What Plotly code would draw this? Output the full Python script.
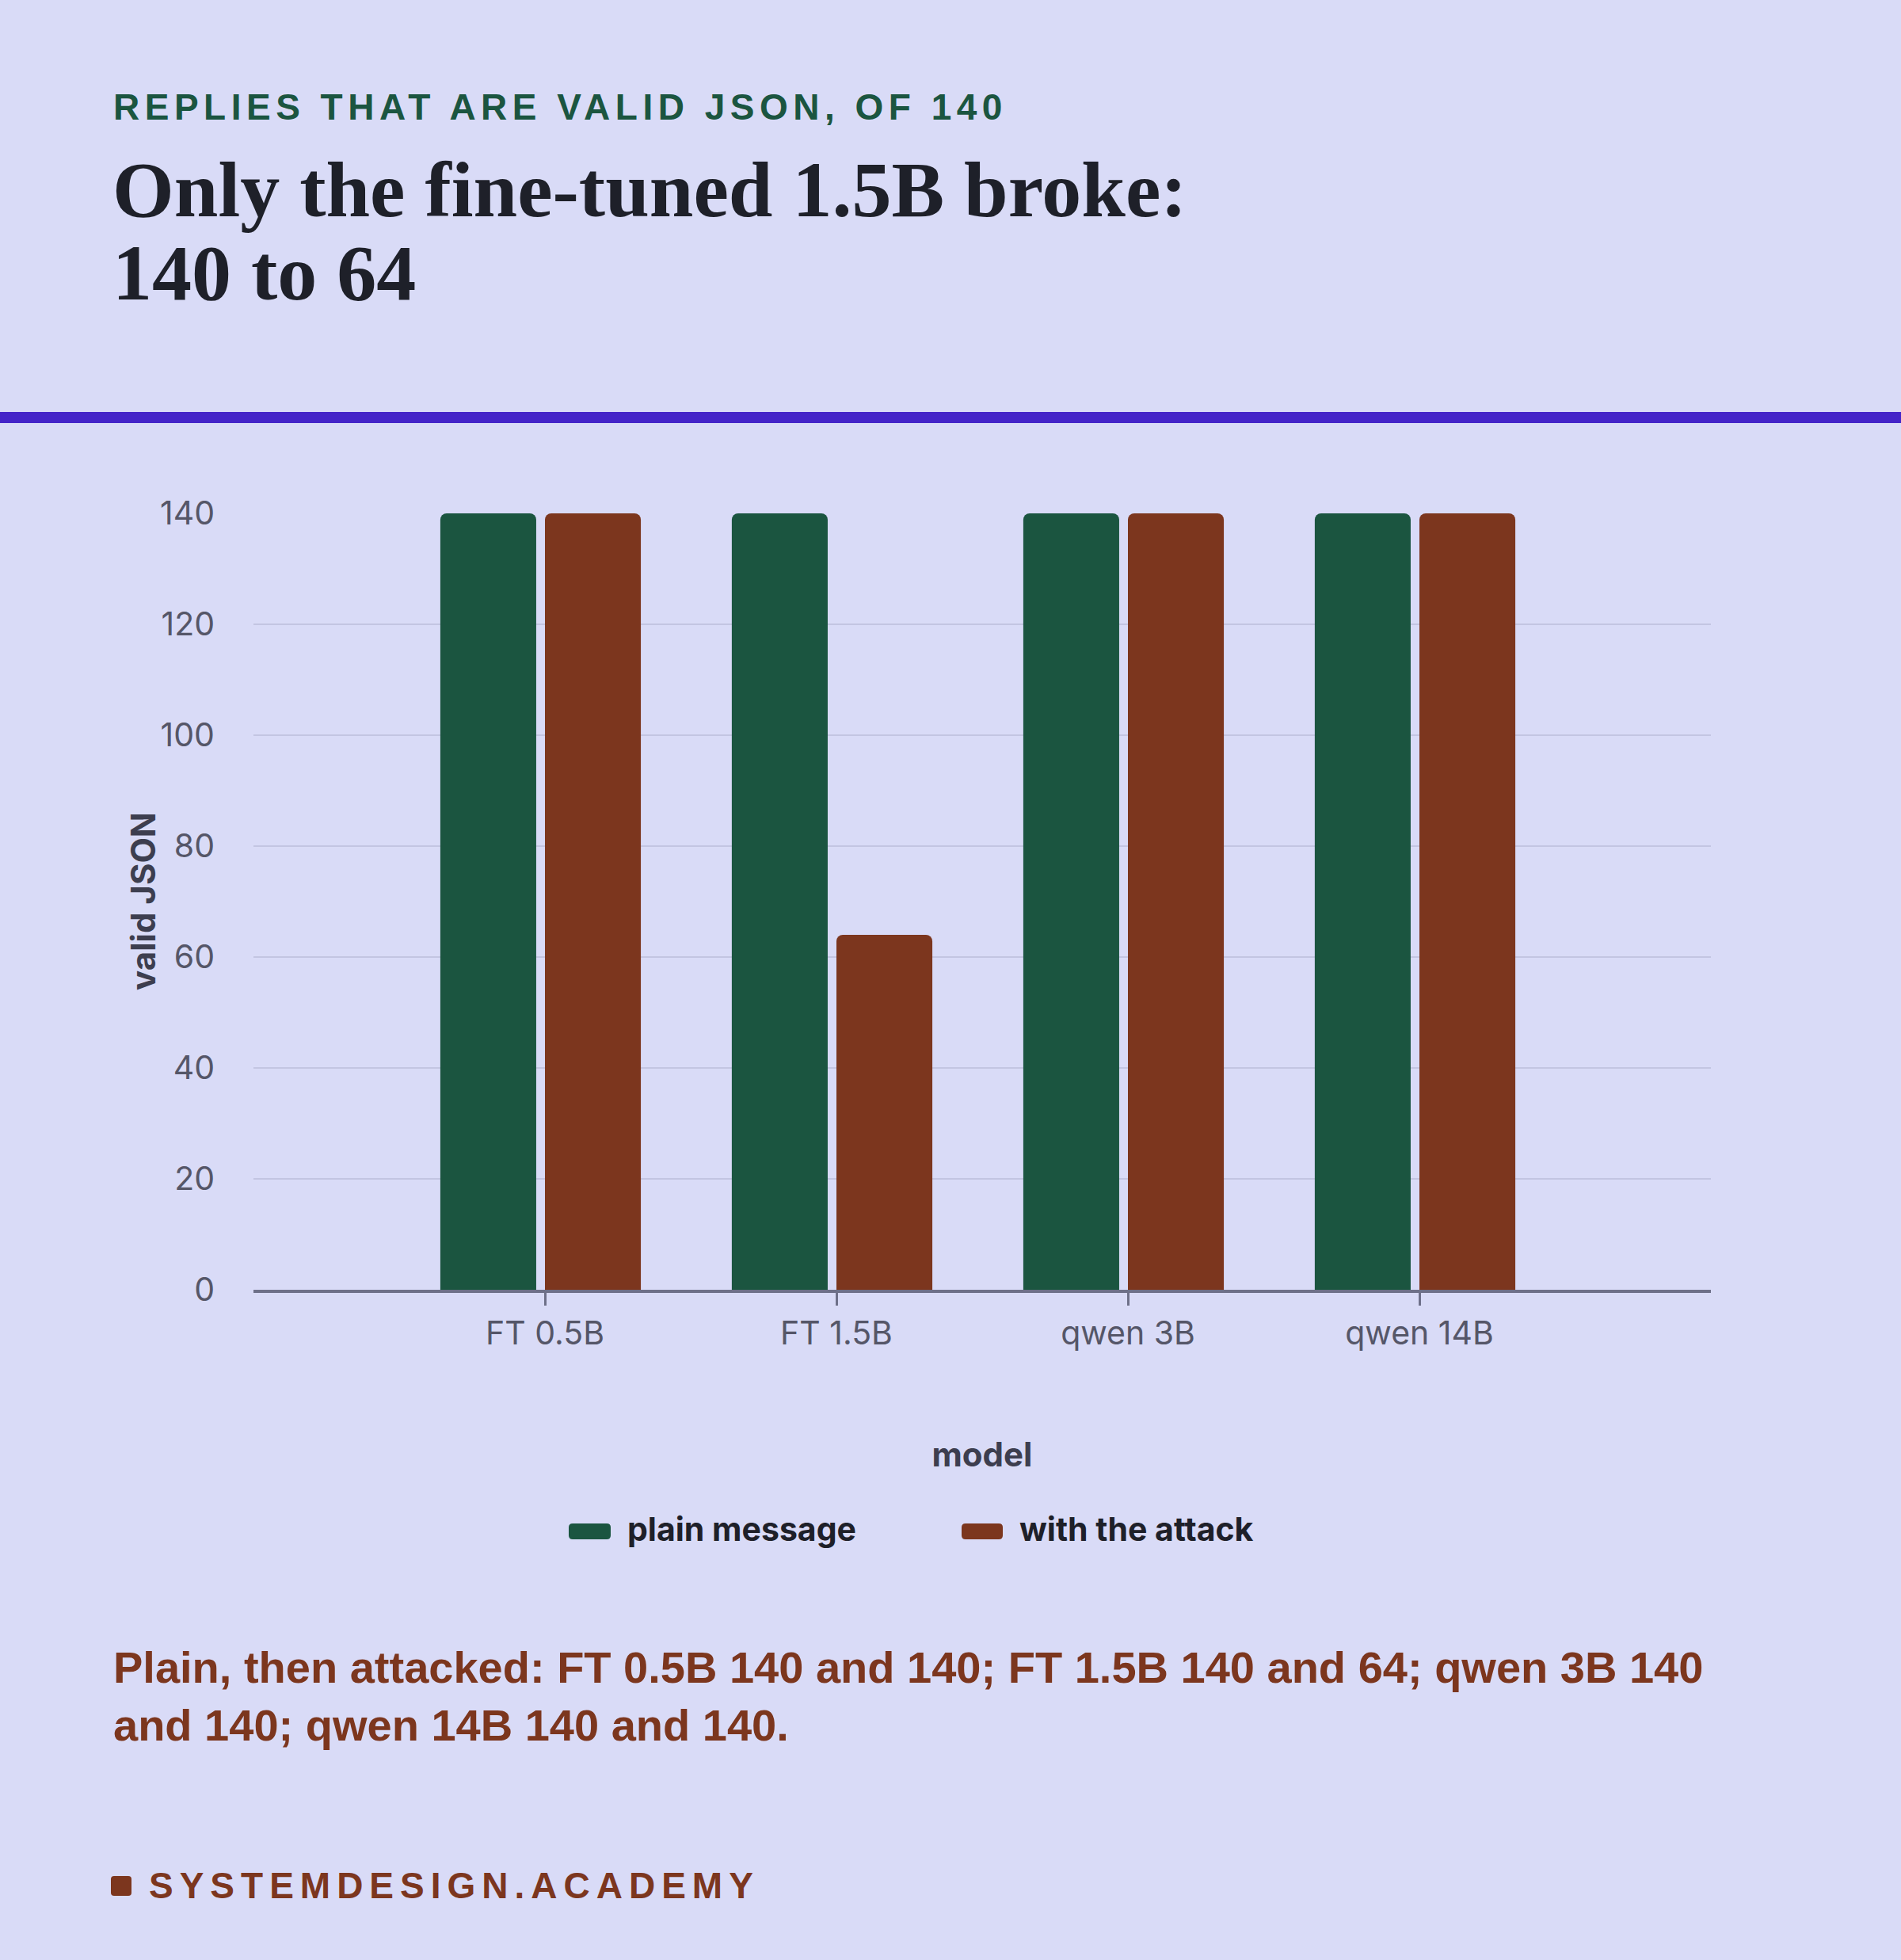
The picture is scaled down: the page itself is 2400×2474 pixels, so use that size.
import plotly.graph_objects as go

# data
models = ["FT 0.5B", "FT 1.5B", "qwen 3B", "qwen 14B"]
plain_message = [140, 140, 140, 140]
with_attack = [140, 64, 140, 140]
series_names = ["plain message", "with the attack"]
y_ticks = [0, 20, 40, 60, 80, 100, 120, 140]

kicker = "REPLIES THAT ARE VALID JSON, OF 140"
title_lines = ["Only the fine-tuned 1.5B broke:", "140 to 64"]
caption = ("Plain, then attacked: FT 0.5B 140 and 140; FT 1.5B 140 and 64; qwen 3B 140"
           "<br>and 140; qwen 14B 140 and 140.")
footer = "SYSTEMDESIGN.ACADEMY"

# colours
BG = "#d9dbf7"
GREEN = "#1b5540"
BROWN = "#7c361e"
PURPLE = "#4424c8"
INK = "#1e2029"
TICK = "#555668"
AXTITLE = "#3d3e4f"
GRID = "#c3c5e2"
AXLINE = "#6e7089"

W, H = 2400, 2474
ML, MR, MT, MB = 320, 240, 648, 846
PW = W - ML - MR
PH = H - MT - MB

# bar geometry in category units (bars sit just left of / right of the tick)
BAR_W = 0.329
GREEN_OFF = -0.359
BROWN_OFF = 0.0


def px_x(px):
    return (px - ML) / PW


def px_y(py):
    return (H - MB - py) / PH


def rounded_rect(x0, y0, x1, y1, r):
    # path in paper coords from pixel box
    rx = r / PW
    ry = r / PH
    a, b, c, d = px_x(x0), px_y(y0), px_x(x1), px_y(y1)  # b top, d bottom
    return (f"M{a+rx},{b} L{c-rx},{b} Q{c},{b} {c},{b-ry} L{c},{d+ry} Q{c},{d} {c-rx},{d} "
            f"L{a+rx},{d} Q{a},{d} {a},{d+ry} L{a},{b-ry} Q{a},{b} {a+rx},{b} Z")


fig = go.Figure()
fig.add_trace(go.Bar(x=models, y=plain_message, name=series_names[0],
                     width=BAR_W, offset=GREEN_OFF,
                     marker=dict(color=GREEN, cornerradius=8, line_width=0), showlegend=False))
fig.add_trace(go.Bar(x=models, y=with_attack, name=series_names[1],
                     width=BAR_W, offset=BROWN_OFF,
                     marker=dict(color=BROWN, cornerradius=8, line_width=0), showlegend=False))

shapes = [
    # purple rule under the header
    dict(type="rect", xref="paper", yref="paper", x0=px_x(0), x1=px_x(W), y0=px_y(520), y1=px_y(534),
         fillcolor=PURPLE, line_width=0, layer="below"),
    # legend swatches
    dict(type="path", xref="paper", yref="paper", path=rounded_rect(718, 1923, 771, 1943, 5),
         fillcolor=GREEN, line_width=0),
    dict(type="path", xref="paper", yref="paper", path=rounded_rect(1214, 1923, 1266, 1943, 5),
         fillcolor=BROWN, line_width=0),
    # footer square
    dict(type="path", xref="paper", yref="paper", path=rounded_rect(140, 2368, 166, 2393, 4),
         fillcolor=BROWN, line_width=0),
]

annotations = [
    dict(text=f'<span style="letter-spacing:6.5px">{kicker}</span>', x=px_x(141), y=px_y(135),
         font=dict(family="Liberation Sans", size=46, color=GREEN, weight=700)),
    dict(text=title_lines[0], x=px_x(140), y=px_y(240),
         font=dict(family="Liberation Serif", size=100, color=INK, weight=700)),
    dict(text=title_lines[1], x=px_x(140), y=px_y(345),
         font=dict(family="Liberation Serif", size=100, color=INK, weight=700)),
    dict(text=series_names[0], x=px_x(790), y=px_y(1930),
         font=dict(family="Inter", size=41, color=INK, weight=700)),
    dict(text=series_names[1], x=px_x(1285), y=px_y(1930),
         font=dict(family="Inter", size=41, color=INK, weight=700)),
    dict(text=caption, x=px_x(141), y=px_y(2141), align="left",
         font=dict(family="Liberation Sans", size=56, color=BROWN, weight=700)),
    dict(text=f'<span style="letter-spacing:8px">{footer}</span>', x=px_x(186), y=px_y(2380),
         font=dict(family="Liberation Sans", size=46, color=BROWN, weight=700)),
]
for a in annotations:
    a.update(xref="paper", yref="paper", xanchor="left", yanchor="middle", showarrow=False)

# y axis title
annotations.append(dict(text="valid JSON", xref="paper", yref="paper", x=px_x(180), y=px_y(1138),
                        xanchor="center", yanchor="middle", textangle=-90, showarrow=False,
                        font=dict(family="Inter", size=42, color=AXTITLE, weight=700)))

fig.update_layout(
    width=W, height=H,
    margin=dict(l=ML, r=MR, t=MT, b=MB),
    paper_bgcolor=BG, plot_bgcolor=BG,
    barmode="overlay",
    font=dict(family="Inter", color=TICK),
    shapes=shapes,
    annotations=annotations,
    xaxis=dict(
        type="category", range=[-1, 4], showgrid=False,
        showline=True, linecolor=AXLINE, linewidth=4,
        ticks="outside", ticklen=16, tickwidth=3, tickcolor=AXLINE,
        tickfont=dict(family="Inter", size=41, color=TICK),
        title=dict(text="model", standoff=116,
                   font=dict(family="Inter", size=42, color=AXTITLE, weight=700)),
    ),
    yaxis=dict(
        range=[0, 140], tickvals=y_ticks, showgrid=True, gridcolor=GRID, gridwidth=2,
        zeroline=False, showline=False, ticks="",
        tickfont=dict(family="Inter", size=41, color=TICK),
        ticklabelstandoff=48,
    ),
)

fig.write_html("out.html", config={"displayModeBar": False},
               post_script="document.body.style.margin='0';")
